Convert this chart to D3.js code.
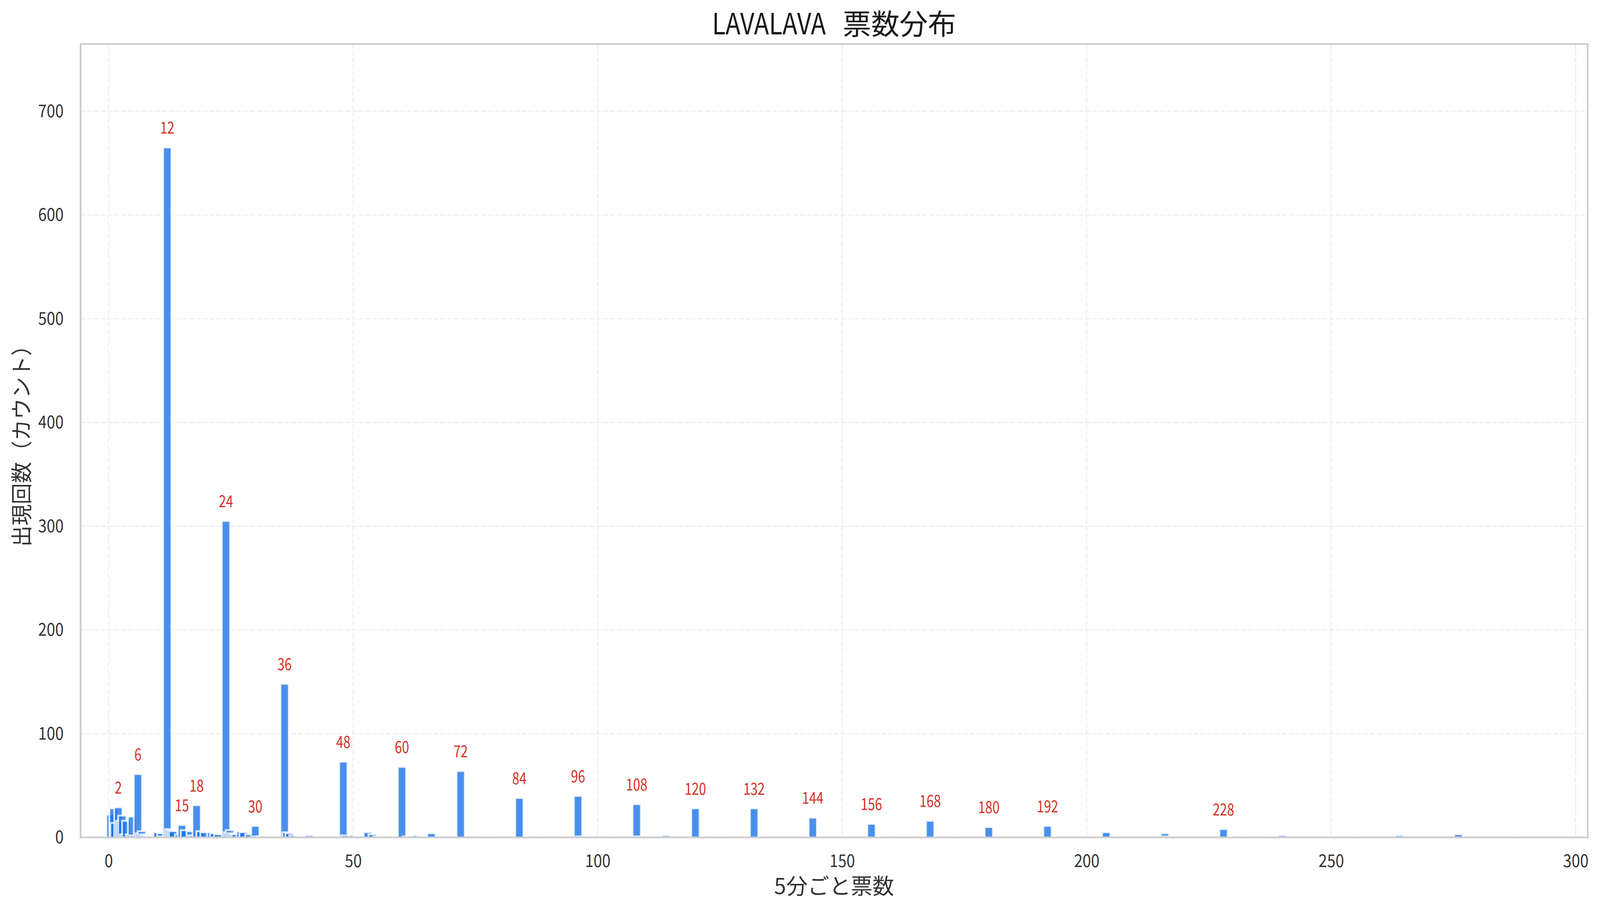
<!DOCTYPE html>
<html><head><meta charset="utf-8">
<script src="https://cdn.jsdelivr.net/npm/d3@7"></script>
<style>html,body{margin:0;padding:0;background:#fff;overflow:hidden;} svg{display:block;width:100vw;height:auto;}</style>
</head><body>
<script>
// ---- data ----
const voteValues = [0.4,1,1.2,2,2.4,2.8,3.2,3.6,4.4,4.8,5.2,6,6.4,6.8,7.2,7.6,8,10,10.8,11.2,
  12,12.4,12.8,13.2,14.4,15,15.6,16.8,17.2,18,18.8,19.6,21,21.6,22.4,24,24.4,24.8,25.2,25.6,26,27,27.6,28.8,
  30,30.4,31.2,32,33.2,34.4,36,36.4,37,37.8,39,41,43,46,48,48.4,50,51,53,54,55,56.4,
  60,61,63,64,66,72,74,76,77.6,79.4,84,86.8,88,89.6,92.4,94,96,96.4,98,99.6,102,103.2,
  108,108.4,110,111.6,114,120,124,125.2,126,132,134,138,142.4,144,147.6,150,154.8,156,158.4,160.8,162.4,164,
  168,172.6,174,176,180,182,184,186,192,199,201,204,206,216,216.4,221,222,228,232,237,239.6,240,
  243,251,255,257,264,269,276,288];
const voteCounts = [22,28,14,29,16,21,3,16,3,20,2,61,4,6,3,2,1,5,4,1,
  665,8,7,6,3,12,7,6,2,31,6,5,5,4,3,305,5,7,4,3,3,6,5,3,
  11,1,1,1,1,1,148,5,4,2,1,2,1,1,73,2,2,1,5,3,1,1,
  68,1,2,1,4,64,1,1,1,1,38,1,1,1,1,1,40,1,1,1,1,1,
  32,1,1,1,2,28,1,1,1,28,1,1,1,19,1,1,1,13,1,1,1,1,
  16,1,1,1,10,1,1,1,11,1,1,5,1,4,1,1,1,8,1,1,1,2,
  1,1,1,1,2,1,3,1];
const labeledValues = [2,6,12,15,18,24,30,36,48,60,72,84,96,108,120,132,144,156,168,180,192,228];
const xTickValues = [0,50,100,150,200,250,300];
const yTickValues = [0,100,200,300,400,500,600,700];
const titleLatin = "LAVALAVA";
const titleCJK = "票数分布";
const xLabelText = "5分ごと票数";
const yLabelText = "出現回数（カウント）";

// ---- layout ----
const W = 4149, H = 2352;
const m = {left: 209, right: 32, top: 114, bottom: 181};
const iw = W - m.left - m.right, ih = H - m.top - m.bottom;
const FONT = "'Noto Sans CJK JP','Noto Sans',sans-serif";

const bars = voteValues.map((v, i) => ({v, c: voteCounts[i]})).sort((a, b) => a.v - b.v);
const maxCount = d3.max(voteCounts);

const x = d3.scaleLinear().domain([-5.72, 302.46]).range([0, iw]);
const y = d3.scaleLinear().domain([0, maxCount * 1.15]).range([ih, 0]);
const barW = 1.68;

const svg = d3.select("body").append("svg")
  .attr("viewBox", `0 0 ${W} ${H}`)
  .style("background", "#fff");
const g = svg.append("g").attr("transform", `translate(${m.left},${m.top})`);

// grid
const grid = g.append("g").attr("stroke", "#efefef").attr("stroke-width", 3.3)
  .attr("stroke-dasharray", "12.3,5.3").attr("fill", "none");
grid.selectAll("line.gx").data(xTickValues).join("line").attr("class", "gx")
  .attr("x1", d => x(d)).attr("x2", d => x(d)).attr("y1", 0).attr("y2", ih);
grid.selectAll("line.gy").data(yTickValues).join("line").attr("class", "gy")
  .attr("x1", 0).attr("x2", iw).attr("y1", d => y(d)).attr("y2", d => y(d));

// bars
g.append("g").selectAll("rect").data(bars).join("rect")
  .attr("x", d => x(d.v - barW / 2))
  .attr("width", d => x(d.v + barW / 2) - x(d.v - barW / 2))
  .attr("y", d => y(d.c))
  .attr("height", d => y(0) - y(d.c))
  .attr("fill", "#1a73e8").attr("fill-opacity", 0.8)
  .attr("stroke", "#ffffff").attr("stroke-opacity", 0.8).attr("stroke-width", 4.6);

// value labels
const labelData = bars.filter(d => labeledValues.includes(d.v));
g.append("g").selectAll("text").data(labelData).join("text")
  .attr("x", d => x(d.v))
  .attr("y", d => y(d.c + maxCount * 0.02))
  .attr("text-anchor", "middle")
  .attr("font-family", FONT).attr("font-size", 43)
  .attr("fill", "#d93025")
  .attr("textLength", d => String(d.v).length * 18.5)
  .attr("lengthAdjust", "spacingAndGlyphs")
  .text(d => d.v);

// frame
g.append("rect").attr("x", 0).attr("y", 0).attr("width", iw).attr("height", ih)
  .attr("fill", "none").attr("stroke", "#cccccc").attr("stroke-width", 4.3);

// axes
const xAxis = g.append("g").attr("transform", `translate(0,${ih})`)
  .call(d3.axisBottom(x).tickValues(xTickValues).tickSize(0).tickPadding(44).tickFormat(d3.format("d")));
const yAxis = g.append("g")
  .call(d3.axisLeft(y).tickValues(yTickValues).tickSize(0).tickPadding(44).tickFormat(d3.format("d")));
[xAxis, yAxis].forEach(a => {
  a.select(".domain").remove();
  a.selectAll("text").attr("font-family", FONT).attr("font-size", 46).attr("fill", "#333333")
    .attr("textLength", function () { return this.textContent.length * 22; })
    .attr("lengthAdjust", "spacingAndGlyphs");
});

// axis titles
svg.append("text").attr("x", m.left + iw / 2).attr("y", 2318)
  .attr("text-anchor", "middle").attr("font-family", FONT).attr("font-size", 56)
  .attr("fill", "#333333").text(xLabelText);
svg.append("text").attr("transform", `translate(76,${m.top + ih / 2}) rotate(-90)`)
  .attr("text-anchor", "middle").attr("font-family", FONT).attr("font-size", 55)
  .attr("fill", "#333333").text(yLabelText);

// title
const cx = m.left + iw / 2;
const latinW = 295, cjkW = 294, gapW = 44;
const totalW = latinW + gapW + cjkW;
svg.append("text").attr("x", cx - totalW / 2).attr("y", 89)
  .attr("font-family", FONT).attr("font-size", 76).attr("fill", "#1a1a1a")
  .attr("textLength", latinW).attr("lengthAdjust", "spacingAndGlyphs").text(titleLatin);
svg.append("text").attr("x", cx - totalW / 2 + latinW + gapW).attr("y", 89)
  .attr("font-family", FONT).attr("font-size", 74).attr("fill", "#1a1a1a")
  .attr("textLength", cjkW).attr("lengthAdjust", "spacingAndGlyphs").text(titleCJK);
</script>
</body></html>
